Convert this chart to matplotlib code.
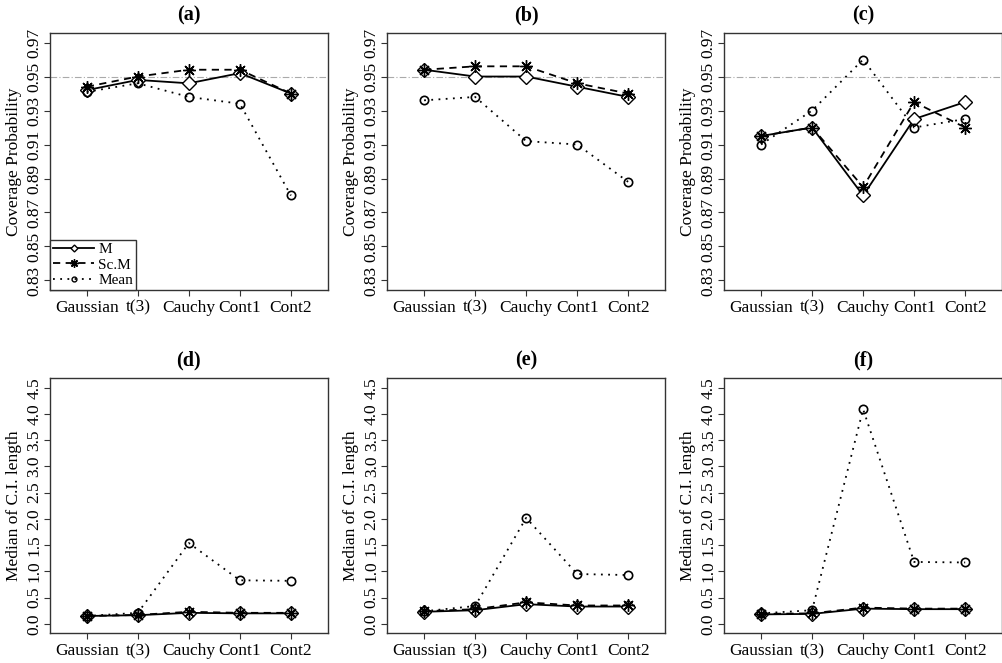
import matplotlib
matplotlib.use("Agg")
import matplotlib.pyplot as plt
import numpy as np

plt.rcParams['font.family'] = ['Liberation Serif', 'DejaVu Serif']

# distributions on the x axis
dists = ["Gaussian", "t(3)", "Cauchy", "Cont1", "Cont2"]

# coverage probability, panels (a) (b) (c)
cov_M = [
    [0.942, 0.948, 0.946, 0.952, 0.940],
    [0.954, 0.950, 0.950, 0.944, 0.938],
    [0.915, 0.920, 0.880, 0.925, 0.935],
]
cov_ScM = [
    [0.944, 0.950, 0.954, 0.954, 0.940],
    [0.954, 0.956, 0.956, 0.946, 0.940],
    [0.915, 0.920, 0.885, 0.935, 0.920],
]
cov_Mean = [
    [0.941, 0.946, 0.938, 0.934, 0.880],
    [0.936, 0.938, 0.912, 0.910, 0.888],
    [0.910, 0.930, 0.960, 0.920, 0.925],
]

# median CI length, panels (d) (e) (f)
len_M = [
    [0.15, 0.165, 0.21, 0.20, 0.20],
    [0.23, 0.26, 0.375, 0.33, 0.33],
    [0.18, 0.19, 0.29, 0.28, 0.28],
]
len_ScM = [
    [0.15, 0.17, 0.23, 0.21, 0.21],
    [0.24, 0.28, 0.41, 0.35, 0.35],
    [0.19, 0.20, 0.31, 0.29, 0.29],
]
len_Mean = [
    [0.15, 0.21, 1.54, 0.83, 0.82],
    [0.24, 0.34, 2.02, 0.95, 0.93],
    [0.20, 0.26, 4.09, 1.18, 1.17],
]

cov_ticks = [0.83, 0.85, 0.87, 0.89, 0.91, 0.93, 0.95, 0.97]
len_ticks = [0.0, 0.5, 1.0, 1.5, 2.0, 2.5, 3.0, 3.5, 4.0, 4.5]
top_titles = ["(a)", "(b)", "(c)"]
bot_titles = ["(d)", "(e)", "(f)"]

fig = plt.figure(figsize=(10.02, 6.63), dpi=100)
lefts = [0.050, 0.3866, 0.7229]
w = 0.2770
x = np.arange(1, 6)
edge = '#333333'


def style_axes(ax, ticks, fmt):
    for s in ax.spines.values():
        s.set_color(edge)
        s.set_linewidth(1.0)
    ax.set_xlim(0.28, 5.72)
    ax.set_xticks(x)
    ax.set_xticklabels(dists, fontsize=12.5)
    ax.set_yticks(ticks)
    ax.set_yticklabels([fmt.format(t) for t in ticks], fontsize=12.5,
                       rotation=90, va='center')
    ax.tick_params(direction='out', length=4, width=0.8, color=edge,
                   top=False, right=False, pad=1.5)
    ax.tick_params(axis='x', pad=3)


def draw(ax, m, s, mn):
    ax.plot(x, m, color='black', lw=1.3, ls='-', marker='D', ms=7.5,
            mfc='white', mec='black', mew=1.0, label='M')
    ax.plot(x, s, color='black', lw=1.3, ls=(0, (4, 3)), marker=(8, 2, 0),
            ms=9, mec='black', mew=1.0, label='Sc.M')
    ax.plot(x, mn, color='black', lw=1.3, ls=(0, (1, 3)), marker='o', ms=6,
            mfc='none', mec='black', mew=1.2, label='Mean')


for i in range(3):
    ax = fig.add_axes([lefts[i], 0.5626, w, 0.3876])
    ax.axhline(0.95, color='#aaaaaa', lw=0.8, ls=(0, (6, 2, 1, 2)), zorder=0)
    draw(ax, cov_M[i], cov_ScM[i], cov_Mean[i])
    ax.set_ylim(0.8244, 0.9756)
    style_axes(ax, cov_ticks, "{:.2f}")
    ax.set_ylabel("Coverage Probability", fontsize=12.5, labelpad=3.5)
    ax.set_title(top_titles[i], fontsize=14.5, fontweight='bold', pad=9)
    if i == 0:
        h = [
            plt.Line2D([], [], color='black', lw=1.3, ls='-', marker='D',
                       ms=3.5, mfc='white', mec='black'),
            plt.Line2D([], [], color='black', lw=1.3, ls=(0, (4, 3)),
                       marker=(8, 2, 0), ms=6, mec='black'),
            plt.Line2D([], [], color='black', lw=1.3, ls=(0, (1, 3)),
                       marker='o', ms=3.5, mfc='none', mec='black'),
        ]
        leg = ax.legend(h, ['M', 'Sc.M', 'Mean'], loc='lower left',
                        fontsize=11, borderaxespad=0, fancybox=False,
                        framealpha=1, edgecolor=edge, handlelength=2.7,
                        handletextpad=0.25, labelspacing=0.1,
                        borderpad=0.2)
        leg.get_frame().set_linewidth(1.0)

for i in range(3):
    ax = fig.add_axes([lefts[i], 0.0448, w, 0.3846])
    draw(ax, len_M[i], len_ScM[i], len_Mean[i])
    ax.set_ylim(-0.18, 4.68)
    style_axes(ax, len_ticks, "{:.1f}")
    ax.set_ylabel("Median of C.I. length", fontsize=12.5, labelpad=3.5)
    ax.set_title(bot_titles[i], fontsize=14.5, fontweight='bold', pad=9)

fig.savefig("out.png", dpi=100)
